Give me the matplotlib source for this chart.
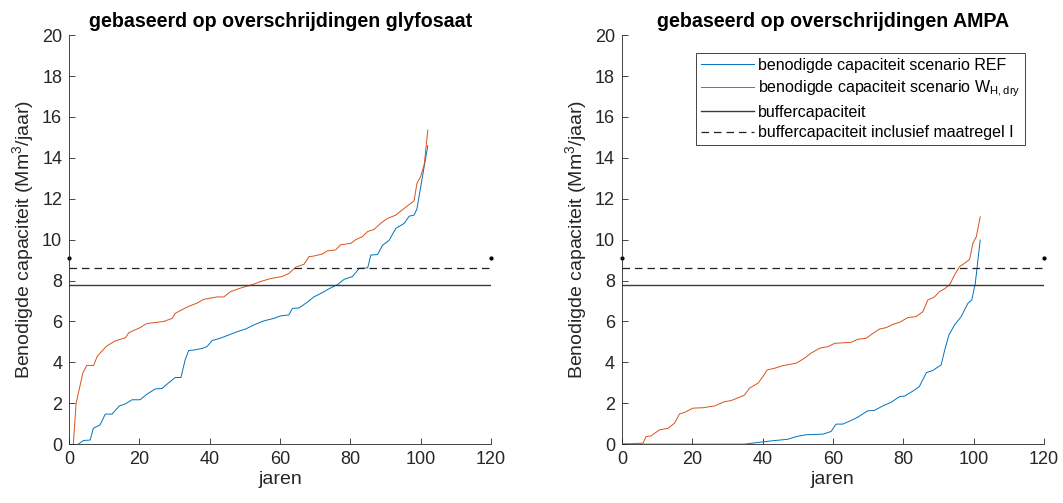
import matplotlib.pyplot as plt

plt.rcParams['font.family'] = ['Liberation Sans', 'DejaVu Sans']
plt.rcParams['mathtext.default'] = 'regular'

# left panel: glyfosaat
gly_ref_x = [2.6, 4.1, 6, 6.9, 8.8, 10.3, 12.2, 14.3, 16, 17.9, 20.2, 22.1, 24.5, 26.4, 28.3, 30.2,
             31.8, 33, 34, 35.4, 37.8, 39.2, 40.7, 43, 45.4, 47.8, 50.2, 52.5, 55.4, 58.2, 60.1,
             62.5, 63.5, 65.4, 67.7, 69.6, 72, 73.9, 76.3, 78.2, 80.6, 82.5, 84.9, 85.8, 87.7,
             89.1, 91, 92.9, 95.3, 96.7, 98.1, 98.9, 100.5, 102]
gly_ref_y = [0, 0.18, 0.2, 0.78, 0.94, 1.47, 1.47, 1.87, 1.97, 2.17, 2.17, 2.44, 2.7, 2.72, 3.0, 3.26,
             3.26, 4.12, 4.58, 4.6, 4.68, 4.77, 5.07, 5.18, 5.34, 5.5, 5.63, 5.83, 6.03, 6.15, 6.27,
             6.32, 6.64, 6.66, 6.94, 7.2, 7.41, 7.6, 7.8, 8.06, 8.2, 8.6, 8.62, 9.25, 9.27,
             9.72, 9.97, 10.55, 10.8, 11.15, 11.2, 11.5, 13.1, 14.6]
gly_wh_x = [1.2, 2, 3.9, 5, 7, 8, 10.7, 13.1, 16, 17, 20.2, 22.1, 26.9, 29.3, 30.2, 33.5, 36.4, 38.3,
            42.1, 44, 45.9, 48.7, 52.1, 54.4, 57.3, 60.6, 62.5, 64.4, 66.8, 68.2, 69.6, 72, 73.4,
            75.8, 77.2, 80.1, 81.5, 83.4, 84.9, 86.7, 88.6, 90.5, 92.9, 94.3, 95.8, 98.1, 98.9,
            100, 101, 102]
gly_wh_y = [0, 2.0, 3.47, 3.85, 3.85, 4.3, 4.8, 5.05, 5.2, 5.45, 5.7, 5.9, 6.0, 6.15, 6.4, 6.7, 6.9, 7.08,
            7.2, 7.2, 7.46, 7.63, 7.8, 7.95, 8.1, 8.2, 8.35, 8.65, 8.8, 9.17, 9.2, 9.3, 9.45,
            9.5, 9.75, 9.82, 10.0, 10.15, 10.4, 10.5, 10.8, 11.04, 11.2, 11.4, 11.6, 11.9, 12.75,
            13.1, 13.7, 15.36]

# right panel: AMPA
ampa_ref_x = [0, 34.9, 39.6, 42.5, 47.2, 49.6, 52.4, 57.2, 59.5, 60.9, 62.8, 65.2, 67.1, 69.9, 71.8,
              74.2, 76.6, 79, 80.4, 82.8, 84.6, 86.6, 88.4, 90.8, 91.8, 93, 94.6, 96.5, 98.4,
              99.5, 100.5, 101.9]
ampa_ref_y = [0, 0, 0.1, 0.16, 0.24, 0.37, 0.46, 0.49, 0.62, 0.98, 0.98, 1.16, 1.32, 1.63, 1.65,
              1.87, 2.05, 2.33, 2.35, 2.6, 2.82, 3.5, 3.6, 3.88, 4.6, 5.34, 5.83, 6.24, 6.89,
              7.05, 7.87, 9.98]
ampa_wh_x = [0, 6, 6.9, 8.3, 10.7, 13.1, 15, 16.4, 17.8, 20.2, 23, 26.4, 29.2, 31.1, 34.9, 36.3, 38.7,
             40.1, 41.3, 43.4, 45.8, 49.6, 51.9, 53.8, 56.2, 58.6, 60.5, 65.2, 67.1, 69.5, 71.4,
             73.3, 75.2, 77.1, 79, 81.3, 83.7, 85.6, 87, 88.9, 90.3, 91.8, 93.2, 94.6, 96, 97.4,
             98.9, 99.8, 100.8, 101.9]
ampa_wh_y = [0, 0.05, 0.37, 0.4, 0.7, 0.77, 1.03, 1.48, 1.55, 1.76, 1.78, 1.87, 2.08, 2.13, 2.4, 2.74, 2.98,
             3.3, 3.63, 3.71, 3.84, 3.96, 4.2, 4.45, 4.69, 4.77, 4.93, 4.98, 5.13, 5.18, 5.42,
             5.63, 5.7, 5.86, 5.96, 6.19, 6.24, 6.48, 7.05, 7.2, 7.46, 7.6, 7.8, 8.27, 8.68, 8.84,
             9.04, 9.82, 10.15, 11.12]

buffer = 7.8
buffer_maatregel = 8.6
dot_y = 9.1

panels = [
    ("gebaseerd op overschrijdingen glyfosaat", gly_ref_x, gly_ref_y, gly_wh_x, gly_wh_y),
    ("gebaseerd op overschrijdingen AMPA", ampa_ref_x, ampa_ref_y, ampa_wh_x, ampa_wh_y),
]

blue = '#0072BD'
orange = '#D95319'
grey = '#262626'

fig = plt.figure(figsize=(10.63, 5.03), dpi=100)
lefts = [0.065, 0.585]
for i, (title, rx, ry, wx, wy) in enumerate(panels):
    ax = fig.add_axes([lefts[i], 0.117, 0.397, 0.813])
    ax.plot(rx, ry, color=blue, lw=0.7, label='benodigde capaciteit scenario REF')
    ax.plot(wx, wy, color=orange, lw=0.7, label='benodigde capaciteit scenario W$_{H,dry}$')
    ax.plot([0, 120], [buffer, buffer], color='#3a3a3a', lw=1.0, label='buffercapaciteit')
    ax.plot([0, 120], [buffer_maatregel, buffer_maatregel], color='#222222', lw=0.9, ls=(0, (6, 4)),
            label='buffercapaciteit inclusief maatregel I')
    ax.plot([0, 120], [dot_y, dot_y], ls='none', marker='.', ms=4, color='k', clip_on=False)
    ax.set_xlim(0, 120)
    ax.set_ylim(0, 20)
    ax.set_xticks(range(0, 121, 20))
    ax.set_yticks(range(0, 21, 2))
    ax.spines['top'].set_visible(False)
    ax.spines['right'].set_visible(False)
    for s in ['left', 'bottom']:
        ax.spines[s].set_color(grey)
        ax.spines[s].set_linewidth(0.6)
    ax.tick_params(direction='in', length=4, width=0.6, colors=grey, labelsize=13, pad=5)
    ax.set_title(title, fontsize=14.1, fontweight='bold', pad=6)
    ax.set_xlabel('jaren', fontsize=14, color=grey, labelpad=2)
    ax.set_ylabel('Benodigde capaciteit (Mm$^3$/jaar)', fontsize=14, color=grey, labelpad=4)
    if i == 1:
        leg = ax.legend(loc='upper right', bbox_to_anchor=(0.955, 0.956), fontsize=11.5,
                        handlelength=3.3, handletextpad=0.25, borderpad=0.3, labelspacing=0.35,
                        fancybox=False, framealpha=1, edgecolor=grey, borderaxespad=0)
        leg.get_frame().set_linewidth(0.6)

fig.savefig('out.png', dpi=100)
